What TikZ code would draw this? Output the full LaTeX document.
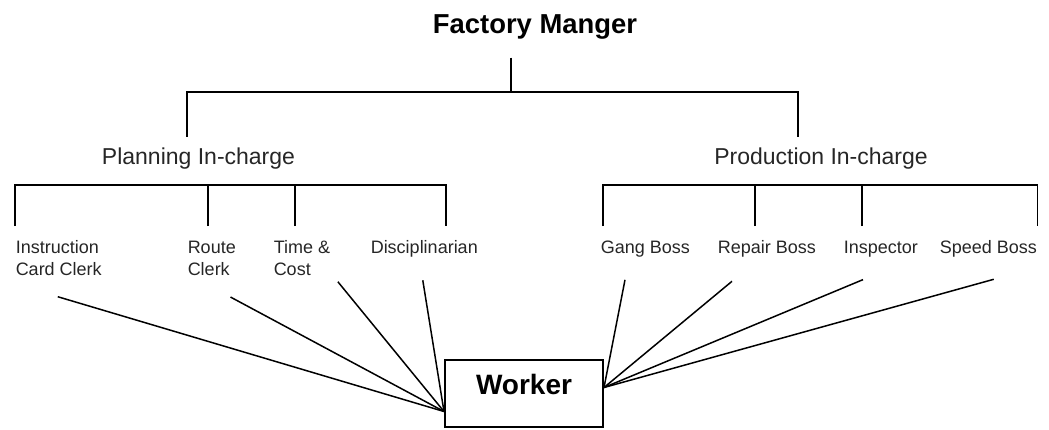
\documentclass[tikz,border=0pt]{standalone}
\usepackage{fontspec}
\setmainfont{Liberation Sans}
\usetikzlibrary{calc}
\begin{document}
\begin{tikzpicture}[x=0.5pt,y=-0.5pt,line width=0.75pt,
  boss/.style={font=\fontsize{13.7pt}{16pt}\selectfont\bfseries,inner sep=0pt,anchor=base},
  head/.style={font=\fontsize{11.5pt}{14pt}\selectfont,inner xsep=0pt,inner ysep=5pt,anchor=base,text=black!85},
  post/.style={font=\fontsize{9pt}{11pt}\selectfont,inner xsep=0pt,inner ysep=7pt,align=left,anchor=north west,text=black!85},
  box/.style={draw,line width=1pt,font=\fontsize{14pt}{16pt}\selectfont\bfseries,minimum width=79pt,minimum height=33.5pt,inner sep=0pt,text depth=9.5pt}]
\useasboundingbox (0,0) rectangle (1049,429);
\node[boss](fm) at (535,33){Factory Manger};
\coordinate (top) at (511,92);
\node[head](plan) at (198.5,164){Planning In-charge};
\node[head](prod) at (821,164){Production In-charge};
\draw[shorten <=9pt] (fm.south -| top) -- (top);
\draw ([xshift=-5.75pt]plan.north) |- (top) -| ([xshift=-11.5pt]prod.north);
\node[post](ic) at (15,226){Instruction\\Card Clerk};
\node[post](rc) at (187,226){Route\\Clerk};
\node[post](tc) at (273,226){Time \&\\Cost};
\node[post](dis) at (370,226){Disciplinarian};
\node[post](gb) at (600,226){Gang Boss};
\node[post](rb) at (717,226){Repair Boss};
\node[post](ins) at (843,226){Inspector};
\node[post](sb) at (939,226){Speed Boss};
\node[box](wk) at (524,393.5){Worker};
\draw (ic.north west) -- ++(0,-41) -| (dis.north -| 446,0);
\foreach \n/\x in {rc/208,tc/295} \draw (\n.north -| \x,0) -- ++(0,-41);
\draw (gb.north -| 603,0) -- ++(0,-41) -| (sb.north east);
\foreach \n/\x in {rb/755,ins/862} \draw (\n.north -| \x,0) -- ++(0,-41);
\foreach \a/\dx/\dy in {ic.south/-1/6,rc.south east/-6/7,tc.south east/7/-9,dis.south/-1.5/8}
  \draw ([shift={(\dx,\dy)}]\a) -- ([yshift=-9pt]wk.west);
\foreach \a/\dx/\dy in {gb.south west/25/8,rb.south west/15/9,ins.south west/20/8,sb.south/5.5/7}
  \draw ([shift={(\dx,\dy)}]\a) -- ([yshift=3pt]wk.east);
\end{tikzpicture}
\end{document}
